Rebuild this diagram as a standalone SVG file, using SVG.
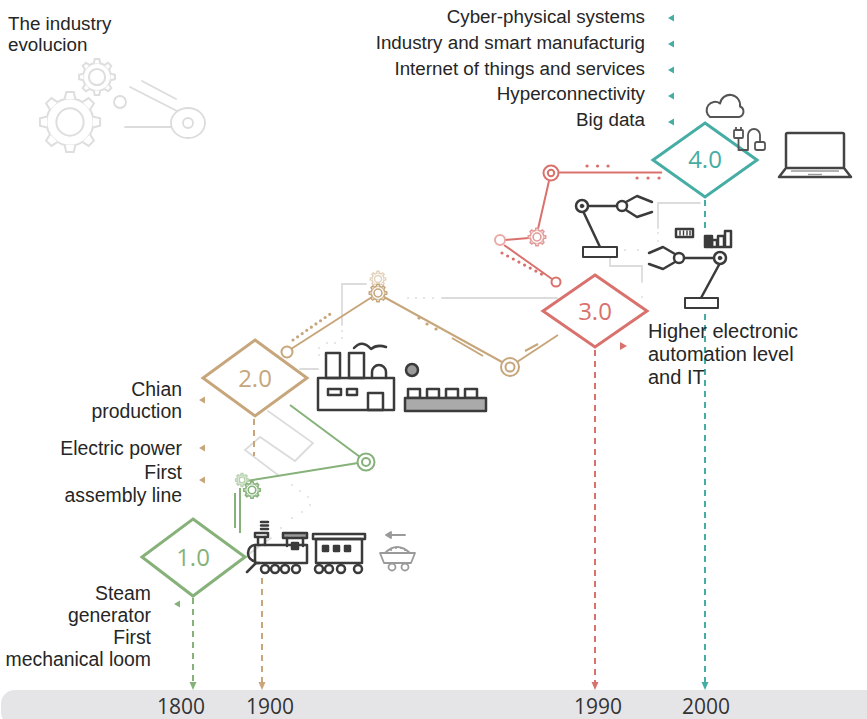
<svg xmlns="http://www.w3.org/2000/svg" xmlns:xlink="http://www.w3.org/1999/xlink" width="867" height="719" viewBox="0 0 867 719">
  <style>
    .txt { font-family: "Liberation Sans", Arial, sans-serif; fill: #262626; }
    .num { font-family: "Open Sans", "Noto Sans", sans-serif; }
    .lbl { font-size: 19.4px; text-anchor: end; }
    .lst { font-size: 18.8px; text-anchor: end; }
    .yr { font-size: 21px; fill: #333; text-anchor: middle; }
    .dnum { font-size: 24px; text-anchor: middle; }
    .ico { fill: none; stroke: #3b3b3b; stroke-width: 2.5; stroke-linecap: round; stroke-linejoin: round; }
    .faint { fill: none; stroke: #dcdcdc; stroke-width: 1.8; stroke-linecap: round; }
    .dots { fill: none; stroke-width: 3.2; stroke-linecap: round; }
    .dash { fill: none; stroke-width: 2; stroke-dasharray: 6 5; }
    .green { stroke: #86b27a; color: #86b27a; }
    .tan { stroke: #c7a67b; color: #c7a67b; }
    .red { stroke: #d9716d; color: #d9716d; }
    .teal { stroke: #45ada4; color: #45ada4; }
  </style>
  <defs>
    <!-- toothed wheel, drawn around the origin with base radius 10 -->
    <path id="tooth" d="M-2.3,-9.7 L-1.6,-12.8 L1.6,-12.8 L2.3,-9.7" vector-effect="non-scaling-stroke"/>
    <g id="gear" fill="#fff" stroke="currentColor">
      <circle r="10" vector-effect="non-scaling-stroke"/>
      <use href="#tooth"/>
      <use href="#tooth" transform="rotate(45)"/>
      <use href="#tooth" transform="rotate(90)"/>
      <use href="#tooth" transform="rotate(135)"/>
      <use href="#tooth" transform="rotate(180)"/>
      <use href="#tooth" transform="rotate(225)"/>
      <use href="#tooth" transform="rotate(270)"/>
      <use href="#tooth" transform="rotate(315)"/>
      <circle r="5.8" vector-effect="non-scaling-stroke"/>
    </g>
    <path id="tri-left" d="M0,0 L6,-3.5 L6,3.5 Z"/>
    <path id="tri-down" d="M-3.5,-8 L3.5,-8 L0,0 Z"/>
  </defs>

  <!-- title and decorative gears -->
  <g id="title">
    <text class="txt" x="8" y="30" font-size="18.8">The industry</text>
    <text class="txt" x="8" y="51" font-size="18.8">evolucion</text>
  </g>
  <g id="title-gears" style="color:#dedede" stroke-width="2">
    <use href="#gear" transform="translate(70,122) scale(2.35)"/>
    <use href="#gear" transform="translate(97,77) scale(1.4)"/>
    <circle cx="120" cy="102" r="6" class="faint"/>
    <line x1="130" y1="87" x2="177" y2="111" class="faint"/>
    <line x1="142" y1="81" x2="176" y2="99" class="faint"/>
    <line x1="125" y1="127" x2="171" y2="127" class="faint"/>
    <ellipse cx="188" cy="123" rx="17" ry="15" class="faint"/>
    <circle cx="188" cy="123" r="5" class="faint"/>
  </g>

  <!-- timeline bar -->
  <g id="timeline">
    <rect x="1" y="690" width="900" height="36" rx="14" fill="#e5e5e8"/>
    <text class="txt num yr" x="181" y="714">1800</text>
    <text class="txt num yr" x="270" y="714">1900</text>
    <text class="txt num yr" x="598" y="714">1990</text>
    <text class="txt num yr" x="706" y="714">2000</text>
  </g>

  <!-- connectors -->
  <g id="connectors">
    <!-- faint guide lines -->
    <polyline points="366,284 342,284 342,325" class="faint"/>
    <line x1="300" y1="369" x2="318" y2="369" class="faint"/>
    <path d="M342,331 v0.1 M342,338 v0.1 M327,343 v0.1 M335,343 v0.1 M319,348 v0.1 M319,355 v0.1" class="faint" stroke-width="3.5"/>
    <path d="M408,298 h0.1 M416,298 h0.1 M424,298 h0.1 M433,298 h0.1" class="faint" stroke-width="3.5"/>
    <line x1="442" y1="298" x2="557" y2="298" class="faint"/>
    <polyline points="658,228 658,203 700,203" class="faint"/>
    <path d="M658,233 v0.1 M658,241 v0.1 M625,250 h0.1 M638,250 h0.1 M642,297 h0.1" class="faint" stroke-width="3.5"/>
    <polyline points="610,258 610,266 642,266 642,282" class="faint"/>
    <polyline points="268,411 313,443 295,461 260,437 245,450 278,475" class="faint"/>
    <line x1="246" y1="556" x2="271" y2="538" class="faint"/>
    <path d="M281,528 v0.1 M292,518 v0.1 M302,512 v0.1 M310,505 v0.1 M308,497 v0.1 M300,491 v0.1 M292,485 v0.1" class="faint" stroke-width="3.5"/>

    <!-- 1.0 chain (green) -->
    <g class="green" fill="none" stroke-width="2">
      <line x1="290" y1="405" x2="360" y2="457"/>
      <line x1="358" y1="463" x2="246" y2="481"/>
      <line x1="235" y1="493" x2="235" y2="528"/>
      <line x1="240" y1="488" x2="240" y2="533"/>
      <circle cx="366" cy="462" r="8.5" fill="#fff"/>
      <circle cx="366" cy="462" r="4"/>
    </g>
    <use href="#gear" transform="translate(242,480) scale(0.5)" style="color:#b9d3b1" stroke-width="1.5"/>
    <use href="#gear" transform="translate(252,490) scale(0.65)" style="color:#86b27a" stroke-width="1.6"/>

    <!-- 2.0 chain (tan) -->
    <g class="tan" fill="none" stroke-width="2">
      <line x1="291" y1="349" x2="372" y2="297"/>
      <line x1="384" y1="297" x2="502" y2="362"/>
      <line x1="452" y1="338" x2="483" y2="356"/>
      <line x1="517" y1="362" x2="558" y2="335"/>
      <line x1="525" y1="351" x2="538" y2="344"/>
      <path d="M293,340 L333,312" class="dots" stroke-dasharray="0 5.6" stroke-width="2.8"/>
      <path d="M419,318 l0.1,0 M427,324 l0.1,0 M436,329 l0.1,0" class="dots" stroke-width="3.2"/>
      <circle cx="287" cy="352" r="5.5" fill="#fff"/>
      <circle cx="510" cy="367" r="9" fill="#fff"/>
      <circle cx="510" cy="367" r="4.5"/>
    </g>
    <use href="#gear" transform="translate(378,279) scale(0.6)" style="color:#e3d3bd" stroke-width="1.5"/>
    <use href="#gear" transform="translate(378,293) scale(0.68)" style="color:#c7a67b" stroke-width="1.6"/>

    <!-- 3.0 chain (red) -->
    <g class="red" fill="none" stroke-width="2">
      <line x1="558" y1="172.5" x2="662" y2="172.5"/>
      <line x1="549" y1="181" x2="538" y2="229"/>
      <line x1="529" y1="238" x2="505" y2="240"/>
      <line x1="504" y1="245" x2="552" y2="279"/>
      <path d="M587,166 h0.1 M597.5,166 h0.1 M608,166 h0.1" class="dots"/>
      <path d="M637,178 h0.1 M648,178 h0.1 M659,178 h0.1" class="dots"/>
      <path d="M502,253 L547,277" class="dots" stroke-dasharray="0 6.4" stroke-width="3"/>
      <circle cx="551" cy="173" r="7.5" fill="#fff"/>
      <circle cx="551" cy="173" r="3.2"/>
      <circle cx="500" cy="240" r="5" fill="#fff" stroke="#e9aaa7"/>
      <circle cx="556" cy="282" r="4.5" fill="#fff"/>
    </g>
    <use href="#gear" transform="translate(537,237) scale(0.68)" style="color:#e39a97" stroke-width="1.6"/>

    <!-- dashed drops to the timeline -->
    <line x1="193" y1="598" x2="193" y2="682" class="dash green"/>
    <use href="#tri-down" x="193" y="690" fill="#86b27a"/>
    <line x1="254" y1="419" x2="254" y2="456" class="dash tan"/>
    <line x1="262" y1="578" x2="262" y2="682" class="dash tan"/>
    <use href="#tri-down" x="262" y="690" fill="#c7a67b"/>
    <line x1="595" y1="350" x2="595" y2="682" class="dash red"/>
    <use href="#tri-down" x="595" y="690" fill="#d9716d"/>
    <line x1="705" y1="200" x2="705" y2="229" class="dash teal"/>
    <line x1="705" y1="314" x2="705" y2="682" class="dash teal"/>
    <use href="#tri-down" x="705" y="690" fill="#45ada4"/>
  </g>

  <!-- era 1.0 -->
  <g id="era-1">
    <path d="M193,519 L245,557 L193,596 L142,557 Z" fill="#fff" class="green" stroke-width="3"/>
    <text class="txt num dnum" x="193" y="566" style="fill:#86b27a">1.0</text>
    <use href="#tri-left" x="174" y="604" fill="#86b27a"/>
    <g class="txt lbl">
      <text x="151" y="600">Steam</text>
      <text x="151" y="622">generator</text>
      <text x="151" y="644">First</text>
      <text x="151" y="666">mechanical loom</text>
    </g>
  </g>

  <!-- era 2.0 -->
  <g id="era-2">
    <path d="M255,340 L307,378 L255,416 L203,378 Z" fill="#fff" class="tan" stroke-width="3"/>
    <text class="txt num dnum" x="255" y="387" style="fill:#c7a67b">2.0</text>
    <use href="#tri-left" x="199" y="400" fill="#c7a67b"/>
    <use href="#tri-left" x="199" y="448" fill="#c7a67b"/>
    <use href="#tri-left" x="199" y="480" fill="#c7a67b"/>
    <g class="txt lbl">
      <text x="182" y="396">Chian</text>
      <text x="182" y="418">production</text>
      <text x="182" y="455">Electric power</text>
      <text x="182" y="479">First</text>
      <text x="182" y="502">assembly line</text>
    </g>
  </g>

  <!-- era 3.0 -->
  <g id="era-3">
    <path d="M595,275 L647,311 L595,347 L543,311 Z" fill="#fff" class="red" stroke-width="3"/>
    <text class="txt num dnum" x="595" y="320" style="fill:#d9716d">3.0</text>
    <path d="M620,342 L627,346 L620,350 Z" fill="#d9716d"/>
    <g class="txt" font-size="20">
      <text x="648" y="338">Higher electronic</text>
      <text x="648" y="361">automation level</text>
      <text x="648" y="384">and IT</text>
    </g>
  </g>

  <!-- era 4.0 -->
  <g id="era-4">
    <path d="M705,123 L757,160 L705,197 L653,160 Z" fill="#fff" class="teal" stroke-width="3"/>
    <text class="txt num dnum" x="705" y="168" style="fill:#45ada4">4.0</text>
    <g class="txt lst">
      <text x="645" y="23">Cyber-physical systems</text>
      <text x="645" y="49">Industry and smart manufacturig</text>
      <text x="645" y="74.5">Internet of things and services</text>
      <text x="645" y="100">Hyperconnectivity</text>
      <text x="645" y="126">Big data</text>
    </g>
    <g fill="#45ada4">
      <use href="#tri-left" x="668" y="18"/>
      <use href="#tri-left" x="668" y="44"/>
      <use href="#tri-left" x="668" y="70"/>
      <use href="#tri-left" x="668" y="96"/>
      <use href="#tri-left" x="668" y="122"/>
    </g>
  </g>

  <!-- factory and conveyor -->
  <g id="factory" class="ico" stroke-width="2">
    <rect x="326" y="353" width="14" height="25"/>
    <rect x="349" y="353" width="15" height="25"/>
    <path d="M372,378 v-6 a7,7 0 0 1 14,0 v6"/>
    <rect x="318" y="378" width="76" height="32"/>
    <rect x="328" y="389" width="13" height="6"/>
    <rect x="347" y="389" width="10" height="6"/>
    <rect x="368" y="393" width="15" height="17"/>
    <path d="M354,348 q8,-9 17,1 q6,-5 15,-2"/>
  </g>
  <g id="conveyor" class="ico" stroke-width="2">
    <circle cx="412" cy="370" r="6" fill="#9a9a9a"/>
    <rect x="408" y="389" width="12" height="9"/>
    <rect x="427" y="389" width="12" height="9"/>
    <rect x="446" y="389" width="12" height="9"/>
    <rect x="465" y="389" width="12" height="9"/>
    <rect x="405" y="398" width="81" height="13" fill="#aaaaaa"/>
  </g>

  <!-- steam train and coal cart -->
  <g id="train" class="ico" stroke-width="2">
    <path d="M261,522 h7 M261,525.5 h7 M261,529 h7"/>
    <rect x="255" y="533" width="13" height="4"/>
    <path d="M258,537 v8 M265,537 v8"/>
    <rect x="283" y="533" width="24" height="5" fill="#9a9a9a"/>
    <path d="M287,538 v8 M303,538 v8"/>
    <rect x="292" y="543" width="6" height="6" fill="#3b3b3b"/>
    <path d="M255,545 h52 v18 h-52 Z"/>
    <path d="M255,545 a7,8 0 0 0 0,16"/>
    <path d="M247,572 l9,-9 h3"/>
    <circle cx="265" cy="569" r="4" fill="#fff"/>
    <circle cx="275" cy="569" r="4" fill="#fff"/>
    <circle cx="285" cy="569" r="4" fill="#fff"/>
    <circle cx="296" cy="569" r="4" fill="#fff"/>
    <rect x="313" y="534" width="52" height="5"/>
    <rect x="316" y="539" width="46" height="24"/>
    <rect x="323" y="546" width="5" height="5" fill="#3b3b3b"/>
    <rect x="334" y="546" width="5" height="5" fill="#3b3b3b"/>
    <rect x="345" y="546" width="5" height="5" fill="#3b3b3b"/>
    <circle cx="319" cy="569" r="4" fill="#fff"/>
    <circle cx="329" cy="569" r="4" fill="#fff"/>
    <circle cx="341" cy="569" r="4" fill="#fff"/>
    <circle cx="358" cy="569" r="4" fill="#fff"/>
  </g>
  <g id="cart" fill="none" stroke="#9a9a9a" stroke-width="1.8" stroke-linecap="round" stroke-linejoin="round">
    <path d="M391,535 h14"/>
    <path d="M386,535 l5,-3 v6 Z" fill="#9a9a9a"/>
    <path d="M380,553 h35 l-4,10 h-27 Z"/>
    <path d="M385,553 q12,-12 25,0"/>
    <path d="M391,550 h0.1 M396,548 h0.1 M401,548 h0.1 M405,550 h0.1" stroke-width="2"/>
    <circle cx="392" cy="567" r="3.5" fill="#fff"/>
    <circle cx="405" cy="567" r="3.5" fill="#fff"/>
  </g>

  <!-- robot arms -->
  <g id="robot-arm-1" class="ico" stroke-width="3">
    <line x1="600" y1="247" x2="583" y2="211"/>
    <line x1="588" y1="206" x2="617" y2="206"/>
    <circle cx="582" cy="206" r="6" fill="#fff"/>
    <circle cx="582" cy="206" r="1.8" fill="#3b3b3b" stroke-width="1"/>
    <circle cx="622" cy="206" r="5" fill="#fff" stroke-width="2.5"/>
    <polyline points="626,202 637,196 652,202"/>
    <polyline points="626,210 637,217 652,212"/>
    <rect x="583" y="247" width="34" height="10" fill="#fff" stroke-width="2"/>
  </g>
  <g id="robot-arm-2" class="ico" stroke-width="3">
    <line x1="720" y1="263" x2="701" y2="298"/>
    <line x1="714" y1="258" x2="684" y2="258"/>
    <circle cx="720" cy="258" r="6" fill="#fff"/>
    <circle cx="720" cy="258" r="1.8" fill="#3b3b3b" stroke-width="1"/>
    <circle cx="679" cy="258" r="5" fill="#fff" stroke-width="2.5"/>
    <polyline points="675,254 663,247 649,253"/>
    <polyline points="675,262 663,269 649,264"/>
    <rect x="685" y="298" width="33" height="10" fill="#fff" stroke-width="2"/>
  </g>
  <g id="data-icons" class="ico" stroke-width="1.8">
    <rect x="676" y="229" width="17" height="8"/>
    <path d="M680,231 v4 M683.5,231 v4 M687,231 v4 M690,231 v4" stroke-width="1.4"/>
    <rect x="705" y="236" width="7" height="11" fill="#3b3b3b"/>
    <rect x="712" y="240" width="5" height="7"/>
    <rect x="718" y="236" width="6" height="11"/>
    <rect x="725" y="231" width="6" height="16"/>
  </g>

  <!-- cloud, cable and laptop -->
  <g id="cloud" fill="none" stroke="#555" stroke-width="2" stroke-linejoin="round">
    <path d="M710,117 H739 A5.5,5.5 0 0 0 740,106.5 A10,10 0 0 0 720,103.5 A6.5,6.5 0 0 0 710,117 Z"/>
  </g>
  <g id="cable" fill="none" stroke="#555" stroke-width="1.8" stroke-linejoin="round">
    <rect x="734" y="130" width="9" height="8" rx="1"/>
    <path d="M736,130 v-3 M741,130 v-3"/>
    <path d="M738.5,138 V150 H748 V135 a6,6 0 0 1 12,0 V142"/>
    <rect x="755" y="142" width="10" height="8" rx="2"/>
  </g>
  <g id="laptop" fill="none" stroke="#444" stroke-width="2.5" stroke-linejoin="round">
    <rect x="786" y="133" width="58" height="35" rx="1.5"/>
    <path d="M786,168 L779,177 H851 L844,168"/>
    <path d="M791,171 H839" stroke="#9a9a9a" stroke-width="1.6"/>
    <path d="M808,174.5 H822" stroke="#9a9a9a" stroke-width="1.4"/>
  </g>
</svg>
